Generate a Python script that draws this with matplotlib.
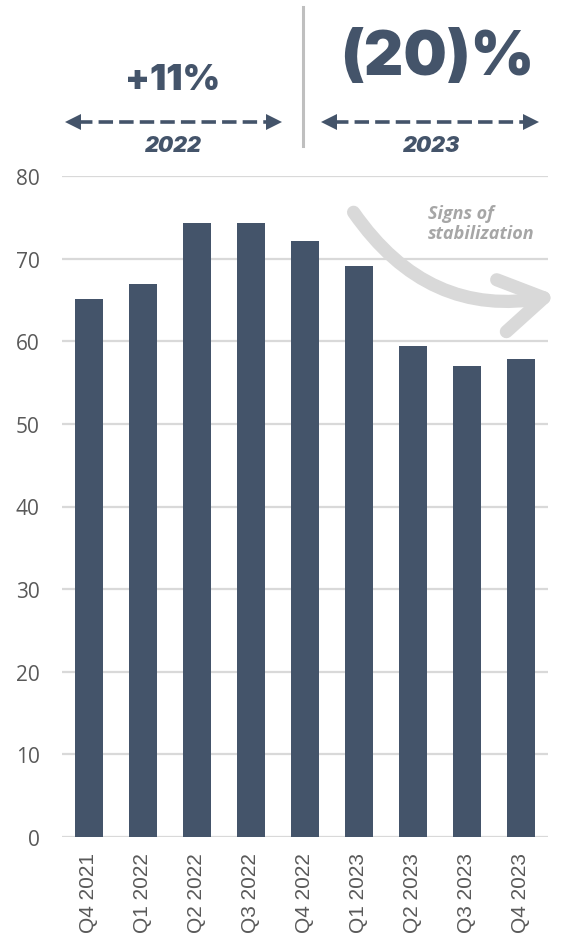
import matplotlib
matplotlib.use("Agg")
import matplotlib.pyplot as plt
from matplotlib.patches import FancyArrowPatch

# quarterly series
quarters = ["Q4 2021", "Q1 2022", "Q2 2022", "Q3 2022", "Q4 2022",
            "Q1 2023", "Q2 2023", "Q3 2023", "Q4 2023"]
values = [65.1, 66.9, 74.3, 74.3, 72.1, 69.1, 59.4, 57.0, 57.9]
y_ticks = [0, 10, 20, 30, 40, 50, 60, 70, 80]

# headline changes per year
headline_2022 = "+11%"
headline_2023 = "(20)%"
year_labels = ["2022", "2023"]
note = "Signs of\nstabilization"

bar_color = "#44546A"
grid_color = "#D9D9D9"
tick_color = "#595959"

W, H = 561, 937
fig = plt.figure(figsize=(W / 100, H / 100), dpi=100)

ax = fig.add_axes([62 / W, (H - 838) / H, 486 / W, 661 / H])
x = list(range(len(quarters)))
ax.bar(x, values, width=0.52, color=bar_color, zorder=2)
ax.set_xlim(-0.5, len(quarters) - 0.5)
ax.set_ylim(0, 80)
ax.set_yticks(y_ticks)
ax.set_xticks(x)
ax.set_xticklabels(quarters, rotation=90)
for lab in ax.get_yticklabels():
    lab.set_fontfamily("Open Sans")
    lab.set_fontsize(15)
    lab.set_color(tick_color)
for lab in ax.get_xticklabels():
    lab.set_fontfamily("Liberation Sans")
    lab.set_fontsize(15)
    lab.set_color(tick_color)
ax.tick_params(length=0)
ax.tick_params(axis="y", pad=16)
ax.tick_params(axis="x", pad=11)
ax.grid(axis="y", color=grid_color, linewidth=1.6, zorder=0)
for s in ax.spines.values():
    s.set_visible(False)

# overlay in pixel units for the header annotations
ov = fig.add_axes([0, 0, 1, 1], zorder=5)
ov.set_xlim(0, W)
ov.set_ylim(H, 0)
ov.axis("off")
ov.patch.set_alpha(0)

head_font = "Inter"
ov.text(173, 81, headline_2022, ha="center", va="center", fontsize=26,
        fontweight="black", family=head_font, color=bar_color)
ov.text(437, 59, headline_2023, ha="center", va="center", fontsize=44,
        fontweight="black", family=head_font, color=bar_color)

# separator between the two years
ov.plot([303, 303], [8, 147], color="#BFBFBF", linewidth=2.2)

# dashed double arrows spanning each year
for (x0, x1), yr, cx in zip([(67, 280), (323, 537)], year_labels, [173, 432]):
    ov.plot([x0 + 11, x1 - 11], [123, 123], color=bar_color, linewidth=2.6,
            dashes=(4, 1.7), solid_capstyle="butt")
    ov.plot([x0 + 6], [123], marker="<", markersize=11, color=bar_color,
            markeredgewidth=0)
    ov.plot([x1 - 6], [123], marker=">", markersize=11, color=bar_color,
            markeredgewidth=0)
    ov.text(cx, 146, yr, ha="center", va="center", fontsize=15.5,
            fontweight="black", fontstyle="italic", family=head_font,
            color=bar_color)

# curved trend arrow
arrow = FancyArrowPatch((352, 211), (559, 296),
                        connectionstyle="arc3,rad=0.33",
                        arrowstyle="->,head_length=31,head_width=19",
                        color="#D9D9D9", linewidth=9.5, capstyle="round",
                        joinstyle="round", mutation_scale=1)
ov.add_patch(arrow)
ov.text(428, 224, note, ha="left", va="center", fontsize=13,
        fontweight="bold", fontstyle="italic", family="Open Sans",
        color="#A6A6A6", linespacing=1.2)

fig.savefig("out.png", dpi=100)
